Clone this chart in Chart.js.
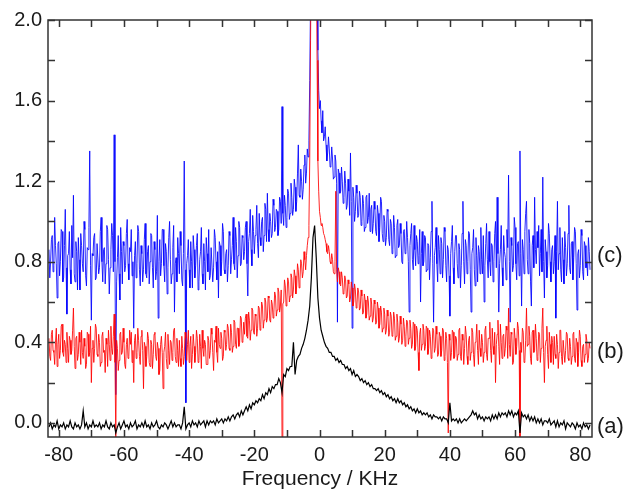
<!DOCTYPE html>
<html>
<head>
<meta charset="utf-8">
<script src="https://cdn.jsdelivr.net/npm/chart.js@4.4.1/dist/chart.umd.min.js"></script>
<style>
html,body{margin:0;padding:0;background:#fff;}
canvas{display:block;}
</style>
</head>
<body>
<canvas id="spectrumChart" width="628" height="492"></canvas>
<script>
// frequency grid for trace (a), kHz, 0.5 kHz steps
const freqA=[
-83,-82.5,-82,-81.5,-81,-80.5,-80,-79.5,-79,-78.5,
-78,-77.5,-77,-76.5,-76,-75.5,-75,-74.5,-74,-73.5,
-73,-72.5,-72,-71.5,-71,-70.5,-70,-69.5,-69,-68.5,
-68,-67.5,-67,-66.5,-66,-65.5,-65,-64.5,-64,-63.5,
-63,-62.5,-62,-61.5,-61,-60.5,-60,-59.5,-59,-58.5,
-58,-57.5,-57,-56.5,-56,-55.5,-55,-54.5,-54,-53.5,
-53,-52.5,-52,-51.5,-51,-50.5,-50,-49.5,-49,-48.5,
-48,-47.5,-47,-46.5,-46,-45.5,-45,-44.5,-44,-43.5,
-43,-42.5,-42,-41.5,-41,-40.5,-40,-39.5,-39,-38.5,
-38,-37.5,-37,-36.5,-36,-35.5,-35,-34.5,-34,-33.5,
-33,-32.5,-32,-31.5,-31,-30.5,-30,-29.5,-29,-28.5,
-28,-27.5,-27,-26.5,-26,-25.5,-25,-24.5,-24,-23.5,
-23,-22.5,-22,-21.5,-21,-20.5,-20,-19.5,-19,-18.5,
-18,-17.5,-17,-16.5,-16,-15.5,-15,-14.5,-14,-13.5,
-13,-12.5,-12,-11.5,-11,-10.5,-10,-9.5,-9,-8.5,
-8,-7.5,-7,-6.5,-6,-5.5,-5,-4.5,-4,-3.5,
-3,-2.5,-2,-1.5,-1,-0.5,0,0.5,1,1.5,
2,2.5,3,3.5,4,4.5,5,5.5,6,6.5,
7,7.5,8,8.5,9,9.5,10,10.5,11,11.5,
12,12.5,13,13.5,14,14.5,15,15.5,16,16.5,
17,17.5,18,18.5,19,19.5,20,20.5,21,21.5,
22,22.5,23,23.5,24,24.5,25,25.5,26,26.5,
27,27.5,28,28.5,29,29.5,30,30.5,31,31.5,
32,32.5,33,33.5,34,34.5,35,35.5,36,36.5,
37,37.5,38,38.5,39,39.5,40,40.5,41,41.5,
42,42.5,43,43.5,44,44.5,45,45.5,46,46.5,
47,47.5,48,48.5,49,49.5,50,50.5,51,51.5,
52,52.5,53,53.5,54,54.5,55,55.5,56,56.5,
57,57.5,58,58.5,59,59.5,60,60.5,61,61.5,
62,62.5,63,63.5,64,64.5,65,65.5,66,66.5,
67,67.5,68,68.5,69,69.5,70,70.5,71,71.5,
72,72.5,73,73.5,74,74.5,75,75.5,76,76.5,
77,77.5,78,78.5,79,79.5,80,80.5,81,81.5,
82,82.5,83];

// frequency grid for traces (b) and (c), kHz, 0.25 kHz steps
const freqBC=[
-83,-82.75,-82.5,-82.25,-82,-81.75,-81.5,-81.25,-81,-80.75,-80.5,-80.25,-80,-79.75,-79.5,-79.25,-79,-78.75,-78.5,-78.25,
-78,-77.75,-77.5,-77.25,-77,-76.75,-76.5,-76.25,-76,-75.75,-75.5,-75.25,-75,-74.75,-74.5,-74.25,-74,-73.75,-73.5,-73.25,
-73,-72.75,-72.5,-72.25,-72,-71.75,-71.5,-71.25,-71,-70.75,-70.5,-70.25,-70,-69.75,-69.5,-69.25,-69,-68.75,-68.5,-68.25,
-68,-67.75,-67.5,-67.25,-67,-66.75,-66.5,-66.25,-66,-65.75,-65.5,-65.25,-65,-64.75,-64.5,-64.25,-64,-63.75,-63.5,-63.25,
-63,-62.75,-62.5,-62.25,-62,-61.75,-61.5,-61.25,-61,-60.75,-60.5,-60.25,-60,-59.75,-59.5,-59.25,-59,-58.75,-58.5,-58.25,
-58,-57.75,-57.5,-57.25,-57,-56.75,-56.5,-56.25,-56,-55.75,-55.5,-55.25,-55,-54.75,-54.5,-54.25,-54,-53.75,-53.5,-53.25,
-53,-52.75,-52.5,-52.25,-52,-51.75,-51.5,-51.25,-51,-50.75,-50.5,-50.25,-50,-49.75,-49.5,-49.25,-49,-48.75,-48.5,-48.25,
-48,-47.75,-47.5,-47.25,-47,-46.75,-46.5,-46.25,-46,-45.75,-45.5,-45.25,-45,-44.75,-44.5,-44.25,-44,-43.75,-43.5,-43.25,
-43,-42.75,-42.5,-42.25,-42,-41.75,-41.5,-41.25,-41,-40.75,-40.5,-40.25,-40,-39.75,-39.5,-39.25,-39,-38.75,-38.5,-38.25,
-38,-37.75,-37.5,-37.25,-37,-36.75,-36.5,-36.25,-36,-35.75,-35.5,-35.25,-35,-34.75,-34.5,-34.25,-34,-33.75,-33.5,-33.25,
-33,-32.75,-32.5,-32.25,-32,-31.75,-31.5,-31.25,-31,-30.75,-30.5,-30.25,-30,-29.75,-29.5,-29.25,-29,-28.75,-28.5,-28.25,
-28,-27.75,-27.5,-27.25,-27,-26.75,-26.5,-26.25,-26,-25.75,-25.5,-25.25,-25,-24.75,-24.5,-24.25,-24,-23.75,-23.5,-23.25,
-23,-22.75,-22.5,-22.25,-22,-21.75,-21.5,-21.25,-21,-20.75,-20.5,-20.25,-20,-19.75,-19.5,-19.25,-19,-18.75,-18.5,-18.25,
-18,-17.75,-17.5,-17.25,-17,-16.75,-16.5,-16.25,-16,-15.75,-15.5,-15.25,-15,-14.75,-14.5,-14.25,-14,-13.75,-13.5,-13.25,
-13,-12.75,-12.5,-12.25,-12,-11.75,-11.5,-11.25,-11,-10.75,-10.5,-10.25,-10,-9.75,-9.5,-9.25,-9,-8.75,-8.5,-8.25,
-8,-7.75,-7.5,-7.25,-7,-6.75,-6.5,-6.25,-6,-5.75,-5.5,-5.25,-5,-4.75,-4.5,-4.25,-4,-3.75,-3.5,-3.25,
-3,-2.75,-2.5,-2.25,-2,-1.75,-1.5,-1.25,-1,-0.75,-0.5,-0.25,0,0.25,0.5,0.75,1,1.25,1.5,1.75,
2,2.25,2.5,2.75,3,3.25,3.5,3.75,4,4.25,4.5,4.75,5,5.25,5.5,5.75,6,6.25,6.5,6.75,
7,7.25,7.5,7.75,8,8.25,8.5,8.75,9,9.25,9.5,9.75,10,10.25,10.5,10.75,11,11.25,11.5,11.75,
12,12.25,12.5,12.75,13,13.25,13.5,13.75,14,14.25,14.5,14.75,15,15.25,15.5,15.75,16,16.25,16.5,16.75,
17,17.25,17.5,17.75,18,18.25,18.5,18.75,19,19.25,19.5,19.75,20,20.25,20.5,20.75,21,21.25,21.5,21.75,
22,22.25,22.5,22.75,23,23.25,23.5,23.75,24,24.25,24.5,24.75,25,25.25,25.5,25.75,26,26.25,26.5,26.75,
27,27.25,27.5,27.75,28,28.25,28.5,28.75,29,29.25,29.5,29.75,30,30.25,30.5,30.75,31,31.25,31.5,31.75,
32,32.25,32.5,32.75,33,33.25,33.5,33.75,34,34.25,34.5,34.75,35,35.25,35.5,35.75,36,36.25,36.5,36.75,
37,37.25,37.5,37.75,38,38.25,38.5,38.75,39,39.25,39.5,39.75,40,40.25,40.5,40.75,41,41.25,41.5,41.75,
42,42.25,42.5,42.75,43,43.25,43.5,43.75,44,44.25,44.5,44.75,45,45.25,45.5,45.75,46,46.25,46.5,46.75,
47,47.25,47.5,47.75,48,48.25,48.5,48.75,49,49.25,49.5,49.75,50,50.25,50.5,50.75,51,51.25,51.5,51.75,
52,52.25,52.5,52.75,53,53.25,53.5,53.75,54,54.25,54.5,54.75,55,55.25,55.5,55.75,56,56.25,56.5,56.75,
57,57.25,57.5,57.75,58,58.25,58.5,58.75,59,59.25,59.5,59.75,60,60.25,60.5,60.75,61,61.25,61.5,61.75,
62,62.25,62.5,62.75,63,63.25,63.5,63.75,64,64.25,64.5,64.75,65,65.25,65.5,65.75,66,66.25,66.5,66.75,
67,67.25,67.5,67.75,68,68.25,68.5,68.75,69,69.25,69.5,69.75,70,70.25,70.5,70.75,71,71.25,71.5,71.75,
72,72.25,72.5,72.75,73,73.25,73.5,73.75,74,74.25,74.5,74.75,75,75.25,75.5,75.75,76,76.25,76.5,76.75,
77,77.25,77.5,77.75,78,78.25,78.5,78.75,79,79.25,79.5,79.75,80,80.25,80.5,80.75,81,81.25,81.5,81.75,
82,82.25,82.5,82.75,83];

// trace (a), black
const specA=[
-0.02,0.00,-0.03,-0.01,-0.02,0.01,-0.03,-0.01,-0.02,0.00,
-0.03,-0.01,-0.02,0.01,-0.02,-0.03,0.00,-0.02,-0.01,-0.03,
-0.01,0.06,-0.02,0.00,-0.03,-0.01,-0.02,0.01,-0.02,-0.01,
-0.02,0.00,-0.03,-0.01,-0.02,0.01,-0.02,-0.03,0.00,-0.02,
-0.01,-0.05,-0.02,0.00,-0.03,-0.01,0.01,-0.02,-0.01,-0.03,
0.00,-0.02,-0.01,0.01,-0.03,-0.01,-0.02,0.00,-0.02,0.01,
-0.02,-0.01,-0.03,0.00,-0.02,-0.01,0.01,-0.02,-0.03,-0.01,
-0.02,0.00,-0.01,-0.03,-0.01,0.01,-0.02,0.00,-0.02,-0.01,
-0.01,-0.03,0.00,0.08,-0.03,-0.01,0.00,-0.02,0.01,-0.01,
0.00,-0.02,0.01,-0.01,0.00,0.01,-0.02,0.01,-0.01,0.01,
0.00,0.01,-0.01,0.02,0.00,0.01,0.02,0.00,0.02,0.01,
0.03,0.01,0.03,0.04,0.02,0.04,0.05,0.03,0.06,0.04,
0.06,0.08,0.06,0.09,0.07,0.10,0.09,0.11,0.10,0.12,
0.11,0.14,0.12,0.15,0.14,0.17,0.15,0.18,0.17,0.19,
0.19,0.22,0.20,0.15,0.24,0.23,0.27,0.26,0.28,0.28,
0.40,0.24,0.31,0.33,0.34,0.37,0.39,0.42,0.46,0.51,
0.58,0.72,0.92,0.98,0.82,0.62,0.52,0.46,0.43,0.40,
0.38,0.37,0.35,0.35,0.33,0.33,0.31,0.32,0.30,0.31,
0.29,0.29,0.27,0.28,0.26,0.27,0.24,0.26,0.23,0.24,
0.23,0.21,0.22,0.20,0.21,0.19,0.20,0.18,0.19,0.17,
0.17,0.16,0.17,0.15,0.16,0.14,0.15,0.13,0.14,0.12,
0.13,0.11,0.12,0.10,0.12,0.10,0.11,0.09,0.10,0.08,
0.09,0.07,0.08,0.06,0.07,0.05,0.07,0.05,0.06,0.04,
0.05,0.04,0.05,0.03,0.04,0.02,0.04,0.03,0.03,0.02,
0.03,0.01,0.03,0.02,0.02,0.00,0.10,0.01,0.02,0.01,
0.02,0.00,0.02,0.00,0.01,0.02,0.01,0.02,0.03,0.04,
0.06,0.04,0.05,0.02,0.04,0.02,0.03,0.01,0.03,0.02,
0.03,0.01,0.04,0.02,0.04,0.02,0.05,0.03,0.05,0.04,
0.05,0.03,0.06,0.04,0.06,0.03,0.05,0.04,0.06,-0.05,
0.05,0.03,0.04,0.02,0.04,0.01,0.03,0.01,0.03,0.00,
0.02,0.00,0.02,-0.01,0.01,0.01,0.00,0.02,-0.01,0.00,
0.01,-0.02,0.01,-0.02,0.00,-0.01,0.01,-0.03,0.00,-0.01,
-0.02,0.00,-0.01,-0.03,0.00,-0.02,-0.01,-0.03,0.00,-0.02,
-0.01,-0.03,-0.01];

// trace (b), red
const specB=[
0.42,0.33,0.31,0.44,0.46,0.36,0.35,0.29,0.40,0.47,0.28,0.39,0.44,0.32,0.36,0.48,0.49,0.35,0.33,0.41,
0.39,0.30,0.45,0.37,0.30,0.43,0.41,0.34,0.36,0.46,0.57,0.38,0.27,0.42,0.43,0.31,0.34,0.45,0.40,0.29,
0.46,0.35,0.32,0.42,0.38,0.27,0.29,0.45,0.44,0.33,0.35,0.48,0.20,0.37,0.41,0.30,0.37,0.49,0.47,0.34,
0.33,0.44,0.40,0.28,0.30,0.43,0.45,0.35,0.36,0.25,0.42,0.39,0.28,0.46,0.39,0.31,0.48,0.37,0.34,0.43,
0.54,0.30,-0.07,0.41,0.37,0.26,0.31,0.44,0.45,0.34,0.35,0.47,0.40,0.29,0.27,0.39,0.42,0.32,0.33,0.46,
0.39,0.45,0.30,0.36,0.20,0.41,0.44,0.32,0.35,0.47,0.41,0.33,0.29,0.43,0.46,0.36,0.17,0.40,0.38,0.28,
0.33,0.45,0.42,0.30,0.28,0.41,0.39,0.27,0.34,0.44,0.45,0.33,0.31,0.40,0.37,0.24,0.26,0.39,0.43,0.35,
0.17,0.35,0.38,0.45,0.32,0.27,0.44,0.36,0.29,0.41,0.40,0.31,0.35,0.46,0.47,0.33,0.30,0.42,0.36,0.28,
0.41,0.32,0.28,0.43,0.37,0.29,0.33,0.45,0.42,0.31,0.39,0.46,0.30,0.38,0.43,0.27,0.34,0.44,0.38,0.30,
0.35,0.46,0.42,0.30,0.31,0.44,0.38,0.27,0.46,0.37,0.33,0.41,0.39,0.29,0.29,0.43,0.41,0.32,0.36,0.47,
0.44,0.35,0.26,0.41,0.40,0.48,0.35,0.30,0.47,0.39,0.37,0.45,0.42,0.31,0.33,0.46,0.45,0.36,0.39,0.49,
0.47,0.37,0.36,0.49,0.45,0.35,0.38,0.51,0.50,0.39,0.37,0.47,0.47,0.38,0.40,0.53,0.52,0.40,0.41,0.50,
0.44,0.52,0.54,0.43,0.42,0.55,0.51,0.41,0.46,0.57,0.56,0.45,0.44,0.54,0.53,0.43,0.47,0.58,0.57,0.46,
0.49,0.60,0.58,0.47,0.51,0.62,0.60,0.50,0.52,0.63,0.62,0.51,0.50,0.61,0.59,0.52,0.55,0.65,0.63,0.53,
0.56,0.67,0.65,0.55,0.58,0.66,-0.07,0.59,0.60,0.71,0.68,0.58,0.61,0.72,0.70,0.60,0.63,0.74,0.72,0.62,
0.66,0.76,0.73,0.64,0.68,0.79,0.76,0.67,0.71,0.81,0.79,0.72,0.75,0.85,0.81,0.76,0.83,0.88,0.92,0.98,
1.30,1.90,2.40,2.60,2.70,2.75,2.70,2.60,2.40,1.80,1.30,1.15,1.05,1.02,0.98,0.99,0.97,0.94,0.93,0.91,
0.89,0.85,0.84,0.88,0.85,0.80,0.79,0.84,0.81,0.75,0.74,0.80,1.15,0.76,0.70,0.77,0.75,0.69,0.68,0.75,
0.72,0.64,0.65,0.73,0.71,0.62,0.63,0.71,0.69,0.60,0.62,0.70,0.67,0.58,0.60,0.69,0.66,0.57,0.59,0.67,
0.65,0.56,0.57,0.66,0.63,0.54,0.55,0.64,0.61,0.52,0.54,0.63,0.60,0.51,0.53,0.62,0.59,0.50,0.52,0.61,
0.59,0.49,0.50,0.60,0.57,0.47,0.49,0.58,0.55,0.45,0.47,0.57,0.54,0.44,0.46,0.56,0.53,0.43,0.45,0.55,
0.53,0.43,0.44,0.55,0.52,0.41,0.43,0.54,0.50,0.40,0.42,0.53,0.49,0.39,0.41,0.52,0.48,0.38,0.43,0.51,
0.50,0.39,0.42,0.51,0.47,0.37,0.39,0.50,0.49,0.36,0.38,0.48,0.46,0.35,0.26,0.44,0.47,0.36,0.39,0.49,
0.46,0.36,0.38,0.48,0.47,0.34,0.37,0.46,0.43,0.32,0.34,0.47,0.46,0.35,0.37,0.48,0.44,0.33,0.34,0.45,
0.43,0.33,0.36,0.47,0.46,0.31,0.33,0.45,0.42,0.30,-0.05,0.44,0.41,0.31,0.35,0.46,0.45,0.32,0.33,0.43,
0.42,0.31,0.34,0.46,0.47,0.33,0.31,0.44,0.41,0.29,0.37,0.48,0.44,0.33,0.29,0.41,0.43,0.31,0.35,0.47,
0.45,0.34,0.28,0.40,0.41,0.49,0.36,0.29,0.46,0.37,0.33,0.44,0.40,0.30,0.35,0.46,0.48,0.34,0.31,0.42,
0.42,0.50,0.36,0.30,0.47,0.38,0.34,0.45,0.20,0.39,0.44,0.51,0.38,0.29,0.49,0.40,0.32,0.43,0.44,0.33,
0.37,0.48,0.46,0.32,0.57,0.39,0.33,0.45,0.44,0.29,0.30,0.47,0.42,0.34,0.38,0.50,0.47,0.36,-0.07,0.40,
0.35,0.47,0.45,0.30,0.31,0.41,0.57,0.38,0.39,0.48,0.43,0.32,0.29,0.45,0.46,0.35,0.36,0.49,0.42,0.31,
0.33,0.45,0.44,0.30,0.37,0.47,0.57,0.35,0.20,0.38,0.41,0.48,0.34,0.27,0.45,0.39,0.30,0.43,0.40,0.29,
0.43,0.34,0.32,0.44,0.39,0.27,0.35,0.46,0.46,0.33,0.29,0.41,0.41,0.30,0.36,0.45,0.44,0.32,0.31,0.42,
0.38,0.29,0.33,0.44,0.45,0.32,0.30,0.42,0.40,0.28,0.35,0.46,0.43,0.31,0.28,0.38,0.39,0.30,0.34,0.44,
0.41,0.30,0.32,0.40,0.37];

// trace (c), blue
const specC=[
0.86,0.72,0.80,0.91,0.93,0.75,0.78,1.02,0.88,0.79,0.62,0.89,0.90,0.73,0.80,0.96,0.95,0.70,0.72,0.88,
1.06,0.77,0.54,0.83,0.84,0.95,0.76,0.69,0.98,0.82,1.13,0.74,0.70,0.90,0.85,0.66,0.92,0.81,0.66,0.94,
0.88,0.79,0.75,1.00,0.96,0.73,0.68,0.87,0.86,0.97,1.35,0.78,0.51,0.84,0.83,0.92,0.94,0.71,0.72,0.89,
0.89,0.74,0.77,0.95,1.02,0.80,0.70,0.86,0.87,0.69,0.79,0.98,0.96,0.81,0.64,0.77,0.86,0.99,0.93,0.75,
1.43,0.80,0.14,0.70,0.82,0.93,0.74,0.61,0.97,0.85,0.69,0.90,0.88,0.75,0.78,0.94,1.01,0.79,0.71,0.87,
0.85,0.96,0.73,0.80,0.47,0.83,0.90,0.72,0.79,0.98,0.95,0.76,0.68,0.88,0.84,0.70,0.76,0.91,0.99,0.74,
0.72,0.85,0.88,0.69,0.80,0.94,0.93,0.77,0.67,0.90,0.86,0.71,0.75,1.03,0.52,0.80,0.91,0.73,0.79,0.96,
0.96,0.78,0.70,0.89,0.85,0.64,0.77,0.92,1.00,0.81,0.69,0.74,0.87,0.98,0.55,0.79,0.82,0.70,0.92,0.84,
0.74,0.95,0.88,0.71,0.68,0.84,1.30,0.76,0.10,0.79,0.83,0.91,0.76,0.67,0.90,0.80,0.67,0.93,0.86,0.72,
0.78,0.88,0.94,0.66,0.70,0.81,0.85,0.97,0.74,0.69,0.89,0.80,0.66,0.92,0.84,0.75,0.96,0.71,0.73,0.87,
0.87,0.70,0.77,0.96,0.92,0.80,0.71,0.85,0.62,0.90,0.88,0.73,0.80,0.99,0.95,0.76,0.74,0.84,0.86,0.70,
0.78,0.95,0.93,0.74,0.81,0.88,1.02,0.79,0.76,0.97,0.90,0.72,0.83,1.00,0.97,0.78,0.79,0.93,0.92,0.81,
0.85,0.97,1.00,0.79,0.63,0.90,0.94,1.06,0.86,0.78,1.03,0.95,0.84,0.93,0.96,1.08,0.89,0.82,1.04,0.92,
0.88,1.00,1.02,0.85,0.93,1.09,1.06,0.90,1.14,0.96,0.90,1.04,1.00,0.92,0.94,1.11,1.08,0.95,0.97,1.06,
1.05,0.93,0.96,1.12,1.10,0.99,1.57,1.04,0.98,1.13,1.08,0.97,1.02,1.16,1.14,1.01,1.04,1.19,1.12,1.03,
1.06,1.21,1.17,1.05,1.10,1.24,1.38,1.13,1.12,1.26,1.20,1.11,1.16,1.28,1.33,1.19,1.24,1.36,1.32,1.40,
1.70,2.10,2.50,2.70,2.80,2.85,2.80,2.70,2.50,2.15,1.85,1.65,1.56,1.60,1.50,1.44,1.55,1.40,1.42,1.47,
1.38,1.30,1.34,1.42,1.36,1.27,1.28,1.37,1.31,1.21,1.22,1.33,1.30,1.19,0.50,1.26,1.24,1.14,1.15,1.27,
1.20,1.09,1.12,1.25,1.19,1.06,1.08,1.21,1.15,1.03,1.34,1.10,0.47,1.17,1.12,1.00,1.05,1.18,1.14,1.02,
1.03,1.15,1.12,0.98,1.00,1.13,1.09,0.95,0.97,1.12,1.13,0.99,1.02,1.14,0.95,1.06,1.08,0.94,0.99,1.10,
1.06,0.95,0.93,1.08,1.04,0.90,0.97,1.12,1.10,0.94,0.90,1.03,1.00,0.88,0.92,1.06,1.05,0.91,0.88,1.01,
0.99,0.84,0.86,1.03,0.97,0.82,0.83,0.98,1.01,0.87,0.88,0.99,0.94,0.80,0.79,0.95,0.96,0.84,0.85,1.00,
0.92,0.80,0.55,0.88,0.94,0.99,0.81,0.76,0.98,0.86,0.78,0.93,0.90,0.79,0.83,0.96,0.60,0.84,0.95,0.78,
0.80,0.93,0.92,0.75,0.76,0.89,0.88,0.71,0.82,0.95,1.10,0.79,0.50,0.83,0.87,0.97,0.79,0.70,0.93,0.86,
0.74,0.92,0.89,0.72,0.81,0.97,0.95,0.78,0.70,0.88,0.86,0.73,0.53,0.84,0.90,0.98,0.77,0.69,0.85,0.93,
0.93,0.79,0.72,0.89,0.86,0.67,0.78,0.94,1.10,0.80,0.69,0.91,0.88,0.74,0.80,0.95,0.94,0.76,0.55,0.84,
0.87,0.96,0.76,0.68,0.92,0.83,0.70,0.88,0.85,0.74,0.97,0.81,0.74,0.93,0.60,0.78,0.89,0.99,0.81,0.72,
0.95,0.80,0.73,0.89,0.88,0.70,0.80,0.94,1.00,0.77,1.12,0.84,0.55,0.79,0.86,0.98,0.77,0.68,0.93,0.85,
0.82,0.71,0.96,0.87,1.23,0.80,0.50,0.92,0.88,0.75,0.78,1.02,0.97,0.79,0.71,0.89,0.90,0.73,1.35,0.84,
0.58,0.91,0.86,0.74,0.95,1.04,1.10,0.81,0.74,0.96,0.89,0.70,0.58,0.88,0.93,0.77,1.12,0.86,0.79,0.95,
0.87,0.98,0.73,0.84,0.96,0.75,1.22,0.80,0.62,0.91,0.85,0.72,0.78,0.99,0.94,0.80,0.70,0.86,0.88,0.74,
0.80,0.93,0.52,0.85,1.10,0.76,0.84,0.97,0.76,0.70,0.92,0.81,0.69,0.95,0.87,0.73,0.79,0.94,1.08,0.77,
0.74,0.89,0.90,0.71,0.82,0.97,0.95,0.79,0.56,0.84,0.86,0.72,0.78,0.96,0.93,0.75,0.71,0.90,0.88,0.77,
0.80,0.73,0.92,0.85,0.76];

const traceNames=["(a)","(b)","(c)"];
const traceColors=["#000000","rgba(255,0,0,0.85)","rgba(0,0,255,0.85)"];
const traceLabelLevel=[-0.02,0.35,0.83];

const FONT="'Liberation Sans', Arial, Helvetica, sans-serif";

function pts(xs,ys){
    return xs.map((f,i)=>({x:f,y:ys[i]}));
}

function isStep(v,s){
    let q=v/s;
    return Math.abs(q-Math.round(q))<1e-6;
}

const framePlugin={
    id:"frame",
    afterDraw(chart){
        let ctx=chart.ctx;
        let a=chart.chartArea;
        let xs=chart.scales.x, ys=chart.scales.y;
        ctx.save();
        ctx.strokeStyle="#333";
        ctx.lineWidth=1.5;
        ctx.strokeRect(a.left,a.top,a.right-a.left,a.bottom-a.top);

        // inward ticks on all four sides
        let len=7;
        ctx.beginPath();
        xs.ticks.forEach(t=>{
            if(!isStep(t.value,10)) return;
            let px=Math.round(xs.getPixelForValue(t.value))+0.5;
            ctx.moveTo(px,a.bottom); ctx.lineTo(px,a.bottom-len);
            ctx.moveTo(px,a.top); ctx.lineTo(px,a.top+len);
        });
        ys.ticks.forEach(t=>{
            if(!isStep(t.value,0.2)) return;
            let py=Math.round(ys.getPixelForValue(t.value))+0.5;
            ctx.moveTo(a.left,py); ctx.lineTo(a.left+len,py);
            ctx.moveTo(a.right,py); ctx.lineTo(a.right-len,py);
        });
        ctx.stroke();

        // trace labels on the right
        ctx.fillStyle="#1a1a1a";
        ctx.font="22px "+FONT;
        ctx.textAlign="left";
        ctx.textBaseline="middle";
        traceNames.forEach((n,i)=>{
            ctx.fillText(n,a.right+5,ys.getPixelForValue(traceLabelLevel[i]));
        });
        ctx.restore();
    }
};

new Chart(document.getElementById("spectrumChart"),{
    type:"line",
    data:{
        datasets:[
            {label:traceNames[0],data:pts(freqA,specA),borderColor:traceColors[0],borderWidth:1.2,pointRadius:0,order:1},
            {label:traceNames[1],data:pts(freqBC,specB),borderColor:traceColors[1],borderWidth:1,pointRadius:0,order:2},
            {label:traceNames[2],data:pts(freqBC,specC),borderColor:traceColors[2],borderWidth:1,pointRadius:0,order:3}
        ]
    },
    options:{
        responsive:false,
        animation:false,
        devicePixelRatio:1,
        layout:{padding:{top:20,right:36,left:0,bottom:0}},
        plugins:{legend:{display:false},tooltip:{enabled:false}},
        scales:{
            x:{
                type:"linear",
                min:-83.3,
                max:83.6,
                grid:{display:false,drawTicks:false},
                border:{display:false},
                ticks:{
                    stepSize:10,
                    includeBounds:false,
                    autoSkip:false,
                    maxRotation:0,
                    padding:6,
                    color:"#1a1a1a",
                    font:{family:FONT,size:20},
                    callback:v=>isStep(v,20)?String(Math.round(v)):""
                },
                title:{display:true,text:"Frequency / KHz",color:"#1a1a1a",font:{family:FONT,size:21},padding:{top:0,bottom:0}},
                afterFit(s){s.height=55;}
            },
            y:{
                min:-0.07,
                max:2.0,
                grid:{display:false,drawTicks:false},
                border:{display:false},
                ticks:{
                    stepSize:0.2,
                    includeBounds:false,
                    autoSkip:false,
                    padding:6,
                    color:"#1a1a1a",
                    font:{family:FONT,size:20},
                    callback:v=>isStep(v,0.4)?Math.abs(v).toFixed(1):""
                },
                afterFit(s){s.width=48;}
            }
        }
    },
    plugins:[framePlugin]
});
</script>
</body>
</html>
